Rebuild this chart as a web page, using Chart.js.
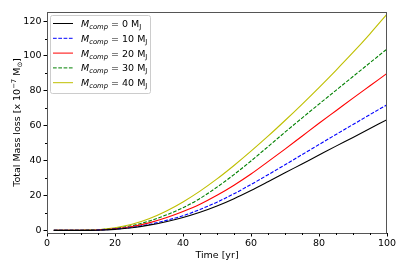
<!DOCTYPE html>
<html>
<head>
<meta charset="utf-8">
<script src="https://cdn.jsdelivr.net/npm/chart.js@4"></script>
<style>
  html, body { margin: 0; padding: 0; background: #fff; }
  #wrap { width: 407px; height: 271px; }
</style>
</head>
<body>
<div id="wrap"><canvas id="chart" width="407" height="271"></canvas></div>
<script>
// --- DATA ---
const time = [2, 5, 10, 15, 20, 25, 30, 35, 40, 45, 50, 55, 60, 65, 70, 75, 80, 85, 90, 95, 100];
const mass0 = [0, 0, 0, 0.1, 0.6, 1.5, 3, 5, 7.4, 10.4, 14, 18.2, 22.9, 27.9, 33, 38.1, 43.2, 48.3, 53.3, 58.4, 63.5];
const mass10 = [0, 0, 0, 0.15, 0.7, 1.7, 3.4, 5.7, 8.4, 12, 16.2, 21, 26.3, 31.9, 37.6, 43.4, 49.2, 55, 60.7, 66.4, 72];
const mass20 = [0, 0, 0.05, 0.2, 0.9, 2.2, 4.3, 7.2, 10.8, 15, 20.1, 25.9, 32.3, 39.4, 46.6, 54, 61.4, 68.6, 75.8, 82.9, 90];
const mass30 = [0, 0, 0.05, 0.3, 1.1, 2.7, 5.3, 8.8, 13, 18.3, 24.8, 32, 39.8, 48, 56.3, 64.4, 72.4, 80.3, 88.2, 96.1, 104];
const mass40 = [0, 0, 0.1, 0.4, 1.5, 3.5, 6.7, 11, 16.3, 22.5, 29.5, 37.2, 45.4, 54, 63, 72.3, 81.9, 91.8, 102, 112.7, 124];
const companions = ["0", "10", "20", "30", "40"];
const xTicks = [0, 20, 40, 60, 80, 100];
const yTicks = [0, 20, 40, 60, 80, 100, 120];

const FONT = "'DejaVu Sans', sans-serif";

const series = [
  { data: mass0, color: "#000000", dash: [] },
  { data: mass10, color: "#0000ff", dash: [3.7, 1.6] },
  { data: mass20, color: "#ff0000", dash: [] },
  { data: mass30, color: "#008000", dash: [3.7, 1.6] },
  { data: mass40, color: "#bfbf00", dash: [] },
];

// dibuja texto por segmentos (subíndices / superíndices)
function drawRich(ctx, x, y, parts) {
  parts.forEach((p) => {
    ctx.font = p.font;
    ctx.fillText(p.t, x, y + (p.dy || 0));
    x += ctx.measureText(p.t).width;
  });
  return x;
}

const extras = {
  id: "extras",
  afterDraw(chart) {
    const ctx = chart.ctx;
    const a = chart.chartArea;
    const xs = chart.scales.x;
    const ys = chart.scales.y;
    ctx.save();

    // marco
    ctx.strokeStyle = "#555";
    ctx.lineWidth = 1;
    ctx.strokeRect(a.left + 0.5, a.top + 0.5, a.right - a.left - 1, a.bottom - a.top);

    // ticks menores
    ctx.strokeStyle = "#000";
    ctx.beginPath();
    for (let v = 5; v < 100; v += 5) {
      if (v % 20 === 0) continue;
      const px = Math.round(xs.getPixelForValue(v)) + 0.5;
      ctx.moveTo(px, a.bottom);
      ctx.lineTo(px, a.bottom + 2);
    }
    for (let v = 10; v < 125; v += 20) {
      const py = Math.round(ys.getPixelForValue(v)) + 0.5;
      ctx.moveTo(a.left, py);
      ctx.lineTo(a.left - 2, py);
    }
    ctx.stroke();

    // títulos de ejes
    ctx.fillStyle = "#000";
    ctx.textBaseline = "alphabetic";
    ctx.font = "9.5px " + FONT;
    ctx.textAlign = "center";
    ctx.fillText("Time [yr]", (a.left + a.right) / 2, 258);

    ctx.textAlign = "left";
    const yParts = [
      { t: "Total Mass loss [x 10", font: "9.5px " + FONT },
      { t: "\u22127", font: "6.8px " + FONT, dy: -4 },
      { t: " M", font: "9.5px " + FONT },
      { t: "\u2299", font: "6.8px " + FONT, dy: 2 },
      { t: "]", font: "9.5px " + FONT },
    ];
    let w = 0;
    yParts.forEach((p) => { ctx.font = p.font; w += ctx.measureText(p.t).width; });
    ctx.translate(20, (a.top + a.bottom) / 2);
    ctx.rotate(-Math.PI / 2);
    drawRich(ctx, -w / 2, 0, yParts);
    ctx.setTransform(1, 0, 0, 1, 0, 0);

    // leyenda
    const bx = 50.5, by = 15.5, bw = 100, bh = 78;
    ctx.fillStyle = "rgba(255,255,255,0.8)";
    ctx.strokeStyle = "#cccccc";
    ctx.beginPath();
    ctx.roundRect(bx, by, bw, bh, 2);
    ctx.fill();
    ctx.stroke();
    series.forEach((s, i) => {
      const ry = 23.5 + i * 14.8;
      ctx.strokeStyle = s.color;
      ctx.setLineDash(s.dash);
      ctx.beginPath();
      ctx.moveTo(53, ry);
      ctx.lineTo(73, ry);
      ctx.stroke();
      ctx.setLineDash([]);
      ctx.fillStyle = "#000";
      drawRich(ctx, 81, ry + 3.5, [
        { t: "M", font: "italic 9.5px " + FONT },
        { t: "comp", font: "italic 6.8px " + FONT, dy: 2 },
        { t: " = " + companions[i] + " M", font: "9.5px " + FONT },
        { t: "J", font: "6.8px " + FONT, dy: 2 },
      ]);
    });
    ctx.restore();
  },
};

new Chart(document.getElementById("chart"), {
  type: "line",
  data: {
    datasets: series.map((s, i) => ({
      label: "M_comp = " + companions[i] + " M_J",
      data: time.map((t, k) => ({ x: t, y: s.data[k] })),
      borderColor: s.color,
      borderDash: s.dash,
      borderWidth: 1.1,
      pointRadius: 0,
      fill: false,
      cubicInterpolationMode: "monotone",
    })),
  },
  options: {
    responsive: false,
    animation: false,
    layout: { padding: { top: 12, right: 20, left: 0, bottom: 0 } },
    plugins: { legend: { display: false }, tooltip: { enabled: false } },
    scales: {
      x: {
        type: "linear",
        min: 0,
        max: 100,
        afterBuildTicks: (s) => { s.ticks = xTicks.map((v) => ({ value: v })); },
        afterFit: (s) => { s.height = 38; },
        grid: { display: true, drawOnChartArea: false, drawTicks: true, tickLength: 3.5, color: "#000" },
        border: { display: false },
        ticks: { color: "#000", font: { family: FONT, size: 9.5 }, padding: 1, maxRotation: 0 },
      },
      y: {
        type: "linear",
        min: -1.5,
        max: 125.2,
        afterBuildTicks: (s) => { s.ticks = yTicks.map((v) => ({ value: v })); },
        afterFit: (s) => { s.width = 47; },
        grid: { display: true, drawOnChartArea: false, drawTicks: true, tickLength: 3.5, color: "#000" },
        border: { display: false },
        ticks: { color: "#000", font: { family: FONT, size: 9.5 }, padding: 2 },
      },
    },
  },
  plugins: [extras],
});
</script>
</body>
</html>
